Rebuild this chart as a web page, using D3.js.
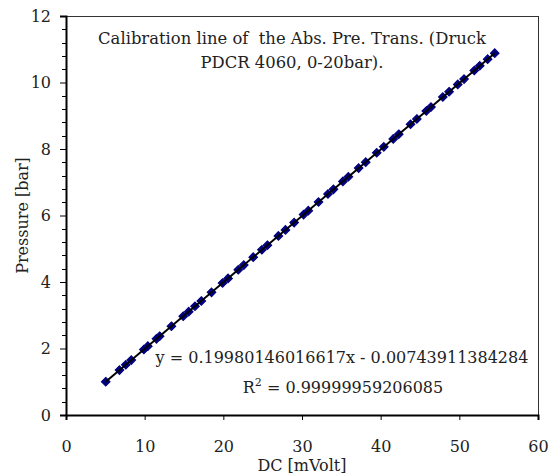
<!DOCTYPE html>
<html>
<head>
<meta charset="utf-8">
<script src="https://cdn.jsdelivr.net/npm/d3@7/dist/d3.min.js"></script>
<style>
  html, body { margin: 0; padding: 0; background: #fff; }
  svg { display: block; }
</style>
</head>
<body>
<svg id="chart" width="549" height="475"></svg>
<script>
// Calibration readings: transducer output [mV] and applied pressure [bar]
const dcMilliVolt = [5.05, 6.8, 7.6, 8.3, 9.9, 10.4, 11.5, 11.9, 13.4, 14.9, 15.6, 16.4, 17.2,
  18.5, 19.9, 20.6, 21.9, 22.6, 23.8, 24.9, 25.6, 27.0, 27.9, 29.0, 30.2, 30.8, 32.1, 33.3,
  34.0, 35.2, 35.9, 37.2, 38.1, 39.5, 40.4, 41.6, 42.3, 43.8, 44.6, 45.8, 46.4, 47.9, 48.7,
  49.8, 50.6, 51.9, 52.6, 53.6, 54.5];
const pressureBar = [1.002, 1.351, 1.511, 1.651, 1.971, 2.070, 2.290, 2.370, 2.670, 2.970,
  3.109, 3.269, 3.429, 3.689, 3.969, 4.108, 4.368, 4.508, 4.748, 4.968, 5.107, 5.387, 5.567,
  5.787, 6.027, 6.146, 6.406, 6.646, 6.786, 7.026, 7.165, 7.425, 7.605, 7.885, 8.064, 8.304,
  8.444, 8.744, 8.904, 9.143, 9.263, 9.563, 9.723, 9.943, 10.102, 10.362, 10.502, 10.702, 10.882];

// Linear fit reported on the chart
const fitSlope = 0.19980146016617;
const fitIntercept = -0.00743911384284;
const fitR2 = "0.99999959206085";

const xTicks = [0, 10, 20, 30, 40, 50, 60];
const yTicks = [0, 2, 4, 6, 8, 10, 12];
const titleLines = ["Calibration line of  the Abs. Pre. Trans. (Druck", "PDCR 4060, 0-20bar)."];
const xTitle = "DC [mVolt]";
const yTitle = "Pressure [bar]";

const FONT = "DejaVu Serif, serif";
const FS = 16;
const TXT = "#222";

const svg = d3.select("#chart");
const plot = { left: 66, right: 538, top: 16, bottom: 415 };

const x = d3.scaleLinear().domain([0, 60]).range([plot.left, plot.right]);
const y = d3.scaleLinear().domain([0, 12]).range([plot.bottom, plot.top]);

// plot area frame (top/right)
svg.append("rect")
  .attr("x", plot.left + 0.5).attr("y", plot.top + 0.5)
  .attr("width", plot.right - plot.left).attr("height", plot.bottom - plot.top)
  .attr("fill", "none").attr("stroke", "#333").attr("stroke-width", 1);

// y axis: major ticks every 2, minor every 0.4
const yMinor = d3.range(0, 12.001, 0.4).filter(v => Math.abs(v / 2 - Math.round(v / 2)) > 1e-6);
svg.append("g").selectAll("line").data(yMinor).join("line")
  .attr("x1", plot.left - 4).attr("x2", plot.left)
  .attr("y1", d => Math.round(y(d)) + 0.5).attr("y2", d => Math.round(y(d)) + 0.5)
  .attr("stroke", "#000").attr("stroke-width", 1);

const yAxis = svg.append("g").attr("transform", `translate(${plot.left},0)`)
  .call(d3.axisLeft(y).tickValues(yTicks).tickSize(6).tickPadding(9).tickFormat(d3.format("d")));
yAxis.attr("font-family", FONT).attr("font-size", FS);
yAxis.select(".domain").attr("stroke", "#000").attr("stroke-width", 2);
yAxis.selectAll(".tick line").attr("stroke", "#000");
yAxis.selectAll("text").attr("fill", TXT);

const xAxis = svg.append("g").attr("transform", `translate(0,${plot.bottom})`)
  .call(d3.axisBottom(x).tickValues(xTicks).tickSize(5).tickPadding(21).tickFormat(d3.format("d")));
xAxis.attr("font-family", FONT).attr("font-size", FS);
xAxis.select(".domain").attr("stroke", "#000").attr("stroke-width", 2);
xAxis.selectAll(".tick line").attr("stroke", "#000");
xAxis.selectAll("text").attr("fill", TXT);

// axis titles
svg.append("text").attr("x", (plot.left + plot.right) / 2).attr("y", 471)
  .attr("text-anchor", "middle").attr("font-family", FONT).attr("font-size", FS)
  .attr("fill", TXT).text(xTitle);
svg.append("text")
  .attr("transform", `translate(28,${(plot.top + plot.bottom) / 2}) rotate(-90)`)
  .attr("text-anchor", "middle").attr("font-family", FONT).attr("font-size", FS)
  .attr("fill", TXT).text(yTitle);

// measured points as square diamonds
const r = 4.2;
const diamondPath = `M0,${-r}L${r},0L0,${r}L${-r},0Z`;
svg.append("g").selectAll("path").data(dcMilliVolt).join("path")
  .attr("transform", (d, i) => `translate(${x(d)},${y(pressureBar[i])})`)
  .attr("d", diamondPath)
  .attr("fill", "#000080").attr("stroke", "#000080").attr("stroke-width", 1.2);

// fitted line across the measured range
const xExt = d3.extent(dcMilliVolt);
svg.append("line")
  .attr("x1", x(xExt[0])).attr("y1", y(fitSlope * xExt[0] + fitIntercept))
  .attr("x2", x(xExt[1])).attr("y2", y(fitSlope * xExt[1] + fitIntercept))
  .attr("stroke", "#000").attr("stroke-width", 2);

// chart title
const title = svg.append("text").attr("text-anchor", "middle")
  .attr("font-family", FONT).attr("font-size", 16.4).attr("fill", TXT)
  .attr("xml:space", "preserve").style("white-space", "pre");
titleLines.forEach((t, i) => {
  title.append("tspan").attr("x", 292).attr("y", 44 + i * 24).text(t);
});

// regression equation and R²
svg.append("text").attr("x", 342).attr("y", 363).attr("text-anchor", "middle")
  .attr("font-family", FONT).attr("font-size", FS).attr("fill", TXT)
  .text(`y = ${fitSlope}x - ${Math.abs(fitIntercept)}`);
const r2 = svg.append("text").attr("x", 343).attr("y", 393).attr("text-anchor", "middle")
  .attr("font-family", FONT).attr("font-size", FS).attr("fill", TXT);
r2.append("tspan").text("R");
r2.append("tspan").attr("font-size", 11).attr("dy", -7).text("2");
r2.append("tspan").attr("dy", 7).text(` = ${fitR2}`);
</script>
</body>
</html>
